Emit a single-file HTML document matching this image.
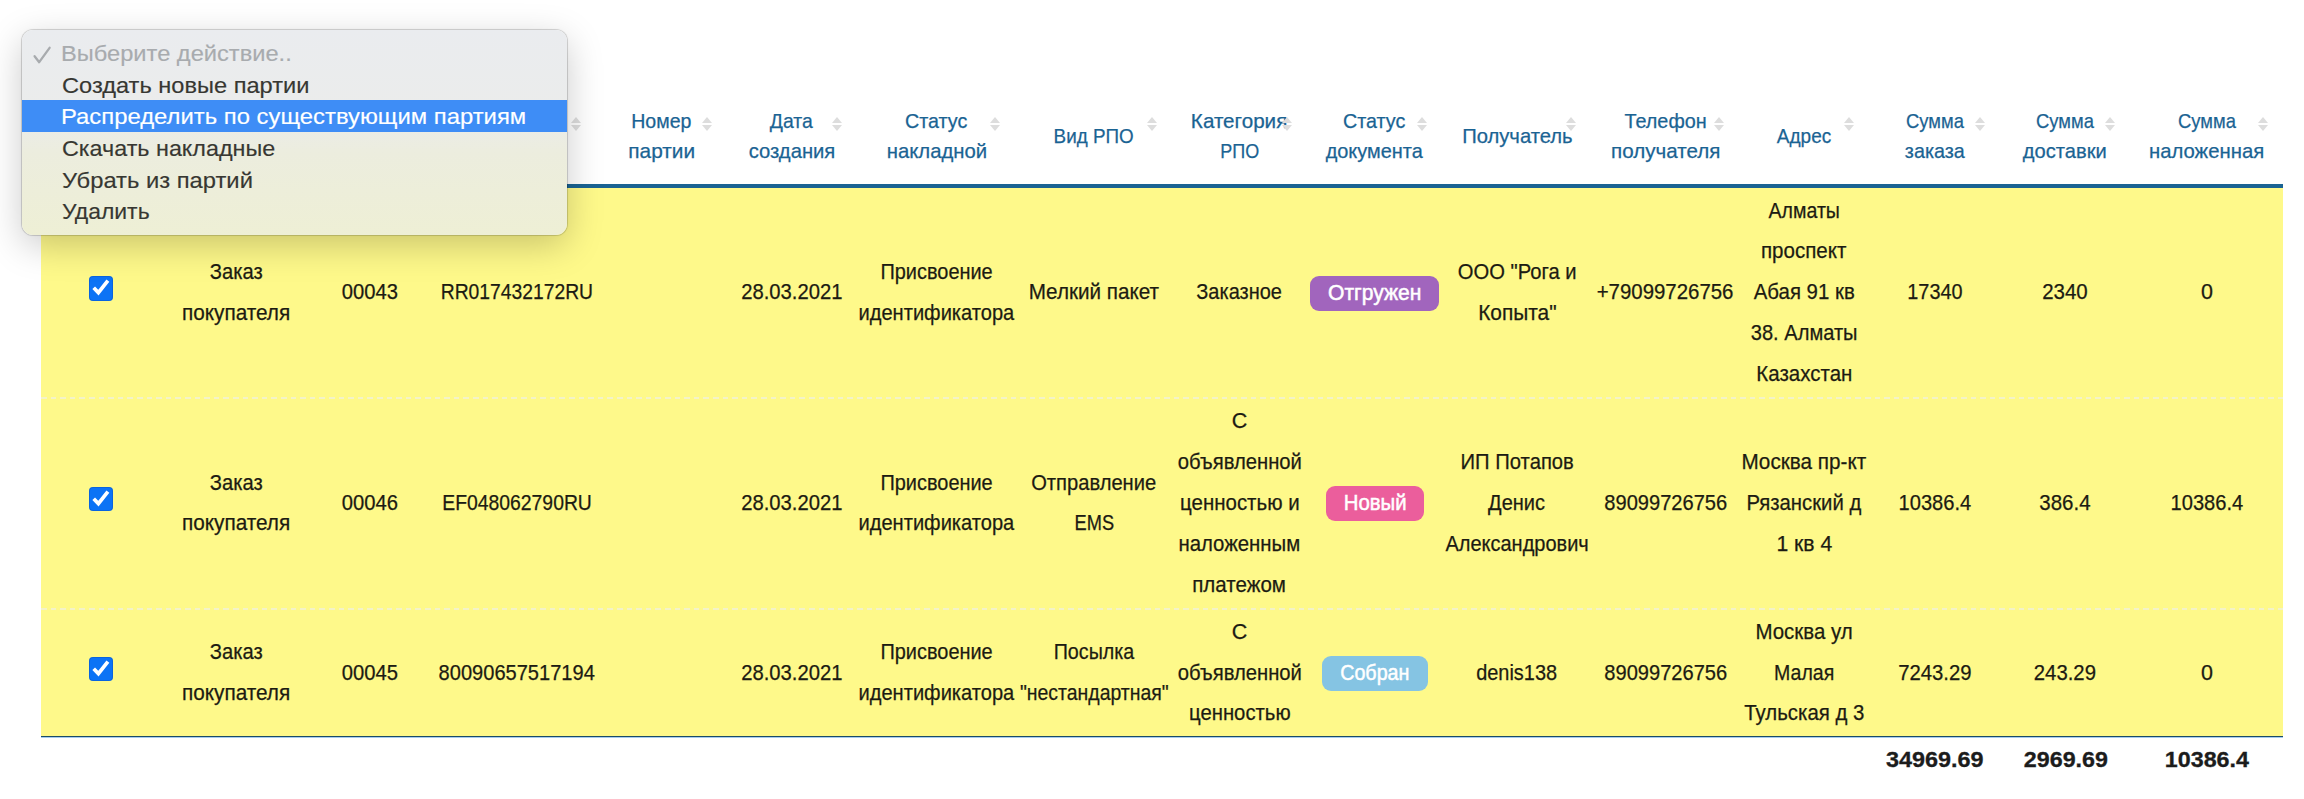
<!DOCTYPE html>
<html lang="ru"><head><meta charset="utf-8"><title>Заказы</title>
<style>
html,body{margin:0;padding:0;background:#fff;}
body{width:2304px;height:799px;position:relative;overflow:hidden;font-family:"Liberation Sans",sans-serif;color:#1c1b12;}
.abs{position:absolute;}
.c{position:absolute;width:400px;margin-left:-200px;text-align:center;white-space:nowrap;font-size:21.5px;line-height:40.8px;-webkit-text-stroke:0.25px #1c1b12;}
.h{position:absolute;width:400px;margin-left:-200px;text-align:center;white-space:nowrap;font-size:21px;line-height:30px;color:#1a6393;-webkit-text-stroke:0.25px #1a6393;}
.si{position:absolute;width:10px;height:14px;}
.si:before,.si:after{content:"";position:absolute;left:0;border-left:5px solid transparent;border-right:5px solid transparent;}
.si:before{top:0;border-bottom:6px solid #dddddd;}
.si:after{bottom:0;border-top:6px solid #dddddd;}
.bd{position:absolute;height:35px;border-radius:9px;color:#fff;font-size:21.5px;line-height:35px;text-align:center;white-space:nowrap;-webkit-text-stroke:0.5px #fff;}
.cb{position:absolute;width:24.2px;height:24.6px;border-radius:4px;background:#0c73f5;box-shadow:inset 0 0 0 1px rgba(0,50,150,.22);}
.dash{position:absolute;left:41px;width:2242px;height:2px;background:repeating-linear-gradient(90deg,#f4f3c8 0,#f4f3c8 5.6px,transparent 5.6px,transparent 9.6px);}
.f{position:absolute;width:400px;margin-left:-200px;text-align:center;white-space:nowrap;font-size:21.5px;font-weight:bold;line-height:30px;color:#1c1c1c;-webkit-text-stroke:0.3px #1c1c1c;}
.f span{display:inline-block;}
#dd{position:absolute;left:22px;top:29.5px;width:545px;height:205px;border-radius:11px;background:linear-gradient(180deg,#eaecef 0%,#ebeceb 42%,#ecedde 60%,#eeefd5 100%);box-shadow:0 0 0 1px rgba(0,0,0,.13),0 10px 36px rgba(0,0,0,.21),0 0 3px rgba(0,0,0,.08);overflow:hidden;}
#dd div{position:absolute;left:0;width:545px;height:31.3px;line-height:33.3px;font-size:22px;color:#373732;padding-left:41.3px;-webkit-text-stroke:0.15px currentColor;box-sizing:border-box;white-space:nowrap;}
</style></head><body>

<div class="h" style="left:661.5px;top:105.8px"><span style="display:inline-block;transform:scaleX(0.9317)">Номер</span><br><span style="display:inline-block;transform:scaleX(0.9908)">партии</span></div>
<div class="si" style="left:701.7px;top:116.8px"></div>
<div class="h" style="left:791.5px;top:105.8px"><span style="display:inline-block;transform:scaleX(0.9234)">Дата</span><br><span style="display:inline-block;transform:scaleX(0.9625)">создания</span></div>
<div class="si" style="left:831.7px;top:116.8px"></div>
<div class="h" style="left:936.5px;top:105.8px"><span style="display:inline-block;transform:scaleX(0.9385)">Статус</span><br><span style="display:inline-block;transform:scaleX(0.9676)">накладной</span></div>
<div class="si" style="left:989.7px;top:116.8px"></div>
<div class="h" style="left:1094px;top:120.8px"><span style="display:inline-block;transform:scaleX(0.8966)">Вид РПО</span></div>
<div class="si" style="left:1146.7px;top:116.8px"></div>
<div class="h" style="left:1239.5px;top:105.8px"><span style="display:inline-block;transform:scaleX(0.9823)">Категория</span><br><span style="display:inline-block;transform:scaleX(0.8568)">РПО</span></div>
<div class="si" style="left:1281.7px;top:116.8px"></div>
<div class="h" style="left:1374.5px;top:105.8px"><span style="display:inline-block;transform:scaleX(0.9385)">Статус</span><br><span style="display:inline-block;transform:scaleX(0.9485)">документа</span></div>
<div class="si" style="left:1416.7px;top:116.8px"></div>
<div class="h" style="left:1517px;top:120.8px"><span style="display:inline-block;transform:scaleX(0.9628)">Получатель</span></div>
<div class="si" style="left:1565.7px;top:116.8px"></div>
<div class="h" style="left:1665.5px;top:105.8px"><span style="display:inline-block;transform:scaleX(0.9442)">Телефон</span><br><span style="display:inline-block;transform:scaleX(0.9807)">получателя</span></div>
<div class="si" style="left:1713.7px;top:116.8px"></div>
<div class="h" style="left:1804px;top:120.8px"><span style="display:inline-block;transform:scaleX(0.905)">Адрес</span></div>
<div class="si" style="left:1843.7px;top:116.8px"></div>
<div class="h" style="left:1934.5px;top:105.8px"><span style="display:inline-block;transform:scaleX(0.8769)">Сумма</span><br><span style="display:inline-block;transform:scaleX(0.9413)">заказа</span></div>
<div class="si" style="left:1974.7px;top:116.8px"></div>
<div class="h" style="left:2065px;top:105.8px"><span style="display:inline-block;transform:scaleX(0.8769)">Сумма</span><br><span style="display:inline-block;transform:scaleX(0.9581)">доставки</span></div>
<div class="si" style="left:2104.7px;top:116.8px"></div>
<div class="h" style="left:2207px;top:105.8px"><span style="display:inline-block;transform:scaleX(0.8769)">Сумма</span><br><span style="display:inline-block;transform:scaleX(0.9667)">наложенная</span></div>
<div class="si" style="left:2257.7px;top:116.8px"></div>
<div class="si" style="left:571px;top:117px"></div>
<div class="abs" style="left:41px;top:184px;width:2242px;height:4px;background:#1a6393"></div>
<div class="abs" style="left:41px;top:188px;width:2242px;height:548px;background:#fef98a"></div>
<div class="dash" style="top:396.7px"></div>
<div class="dash" style="top:607.5px"></div>
<div class="abs" style="left:41px;top:736px;width:2242px;height:1px;background:#1c4c66"></div>
<div class="abs" style="left:41px;top:737px;width:2242px;height:1px;background:#a6ccf0"></div>
<div class="c" style="left:236px;top:251.9px"><span style="display:inline-block;transform:scaleX(0.9382)">Заказ</span><br><span style="display:inline-block;transform:scaleX(0.9655)">покупателя</span></div>
<div class="c" style="left:370px;top:272.3px"><span style="display:inline-block;transform:scaleX(0.9397)">00043</span></div>
<div class="c" style="left:517px;top:272.3px"><span style="display:inline-block;transform:scaleX(0.897)">RR017432172RU</span></div>
<div class="c" style="left:791.5px;top:272.3px"><span style="display:inline-block;transform:scaleX(0.941)">28.03.2021</span></div>
<div class="c" style="left:936.5px;top:251.9px"><span style="display:inline-block;transform:scaleX(0.9271)">Присвоение</span><br><span style="display:inline-block;transform:scaleX(0.9337)">идентификатора</span></div>
<div class="c" style="left:1094px;top:272.3px"><span style="display:inline-block;transform:scaleX(0.9608)">Мелкий пакет</span></div>
<div class="c" style="left:1239.5px;top:272.3px"><span style="display:inline-block;transform:scaleX(0.9286)">Заказное</span></div>
<div class="c" style="left:1517px;top:251.9px"><span style="display:inline-block;transform:scaleX(0.9395)">ООО &quot;Рога и</span><br><span style="display:inline-block;transform:scaleX(0.9712)">Копыта&quot;</span></div>
<div class="c" style="left:1665.5px;top:272.3px"><span style="display:inline-block;transform:scaleX(0.9493)">+79099726756</span></div>
<div class="c" style="left:1804px;top:190.7px"><span style="display:inline-block;transform:scaleX(0.9104)">Алматы</span><br><span style="display:inline-block;transform:scaleX(0.9557)">проспект</span><br><span style="display:inline-block;transform:scaleX(0.9491)">Абая 91 кв</span><br><span style="display:inline-block;transform:scaleX(0.9339)">38. Алматы</span><br><span style="display:inline-block;transform:scaleX(0.9531)">Казахстан</span></div>
<div class="c" style="left:1935px;top:272.3px"><span style="display:inline-block;transform:scaleX(0.9224)">17340</span></div>
<div class="c" style="left:2065.3px;top:272.3px"><span style="display:inline-block;transform:scaleX(0.9522)">2340</span></div>
<div class="c" style="left:2207px;top:272.3px">0</div>
<div class="bd" style="left:1310.3px;top:275.7px;width:128.5px;background:#a165bd"><span style="display:inline-block;transform:scaleX(0.9785)">Отгружен</span></div>
<div class="cb" style="left:89.3px;top:276.1px"><svg width="24.2" height="24.6" viewBox="0 0 24.2 24.6" style="display:block"><path d="M4.7 11.7 L9.4 16.6 L18.9 4.6" fill="none" stroke="#fff" stroke-width="3.7" stroke-linecap="butt" stroke-linejoin="miter"/></svg></div>
<div class="c" style="left:236px;top:462.6px"><span style="display:inline-block;transform:scaleX(0.9382)">Заказ</span><br><span style="display:inline-block;transform:scaleX(0.9655)">покупателя</span></div>
<div class="c" style="left:370px;top:483.0px"><span style="display:inline-block;transform:scaleX(0.9397)">00046</span></div>
<div class="c" style="left:517px;top:483.0px"><span style="display:inline-block;transform:scaleX(0.9)">EF048062790RU</span></div>
<div class="c" style="left:791.5px;top:483.0px"><span style="display:inline-block;transform:scaleX(0.941)">28.03.2021</span></div>
<div class="c" style="left:936.5px;top:462.6px"><span style="display:inline-block;transform:scaleX(0.9271)">Присвоение</span><br><span style="display:inline-block;transform:scaleX(0.9337)">идентификатора</span></div>
<div class="c" style="left:1094px;top:462.6px"><span style="display:inline-block;transform:scaleX(0.9371)">Отправление</span><br><span style="display:inline-block;transform:scaleX(0.8477)">EMS</span></div>
<div class="c" style="left:1239.5px;top:401.4px">С<br><span style="display:inline-block;transform:scaleX(0.9415)">объявленной</span><br><span style="display:inline-block;transform:scaleX(0.9516)">ценностью и</span><br><span style="display:inline-block;transform:scaleX(0.9468)">наложенным</span><br><span style="display:inline-block;transform:scaleX(0.9552)">платежом</span></div>
<div class="c" style="left:1517px;top:442.2px"><span style="display:inline-block;transform:scaleX(0.9407)">ИП Потапов</span><br><span style="display:inline-block;transform:scaleX(0.9311)">Денис</span><br><span style="display:inline-block;transform:scaleX(0.9294)">Александрович</span></div>
<div class="c" style="left:1665.5px;top:483.0px"><span style="display:inline-block;transform:scaleX(0.9338)">89099726756</span></div>
<div class="c" style="left:1804px;top:442.2px"><span style="display:inline-block;transform:scaleX(0.9633)">Москва пр-кт</span><br><span style="display:inline-block;transform:scaleX(0.9442)">Рязанский д</span><br><span style="display:inline-block;transform:scaleX(0.9855)">1 кв 4</span></div>
<div class="c" style="left:1935px;top:483.0px"><span style="display:inline-block;transform:scaleX(0.9342)">10386.4</span></div>
<div class="c" style="left:2065.3px;top:483.0px"><span style="display:inline-block;transform:scaleX(0.9519)">386.4</span></div>
<div class="c" style="left:2207px;top:483.0px"><span style="display:inline-block;transform:scaleX(0.9342)">10386.4</span></div>
<div class="bd" style="left:1325.5px;top:486.4px;width:98.5px;background:#eb5e9c"><span style="display:inline-block;transform:scaleX(0.9484)">Новый</span></div>
<div class="cb" style="left:89.3px;top:486.8px"><svg width="24.2" height="24.6" viewBox="0 0 24.2 24.6" style="display:block"><path d="M4.7 11.7 L9.4 16.6 L18.9 4.6" fill="none" stroke="#fff" stroke-width="3.7" stroke-linecap="butt" stroke-linejoin="miter"/></svg></div>
<div class="c" style="left:236px;top:632.3px"><span style="display:inline-block;transform:scaleX(0.9382)">Заказ</span><br><span style="display:inline-block;transform:scaleX(0.9655)">покупателя</span></div>
<div class="c" style="left:370px;top:652.7px"><span style="display:inline-block;transform:scaleX(0.9397)">00045</span></div>
<div class="c" style="left:517px;top:652.7px"><span style="display:inline-block;transform:scaleX(0.9331)">80090657517194</span></div>
<div class="c" style="left:791.5px;top:652.7px"><span style="display:inline-block;transform:scaleX(0.941)">28.03.2021</span></div>
<div class="c" style="left:936.5px;top:632.3px"><span style="display:inline-block;transform:scaleX(0.9271)">Присвоение</span><br><span style="display:inline-block;transform:scaleX(0.9337)">идентификатора</span></div>
<div class="c" style="left:1094px;top:632.3px"><span style="display:inline-block;transform:scaleX(0.9161)">Посылка</span><br><span style="display:inline-block;transform:scaleX(0.9043)">&quot;нестандартная&quot;</span></div>
<div class="c" style="left:1239.5px;top:611.9px">С<br><span style="display:inline-block;transform:scaleX(0.9415)">объявленной</span><br><span style="display:inline-block;transform:scaleX(0.9434)">ценностью</span></div>
<div class="c" style="left:1517px;top:652.7px"><span style="display:inline-block;transform:scaleX(0.9267)">denis138</span></div>
<div class="c" style="left:1665.5px;top:652.7px"><span style="display:inline-block;transform:scaleX(0.9338)">89099726756</span></div>
<div class="c" style="left:1804px;top:611.9px"><span style="display:inline-block;transform:scaleX(0.9535)">Москва ул</span><br><span style="display:inline-block;transform:scaleX(0.9095)">Малая</span><br><span style="display:inline-block;transform:scaleX(0.9484)">Тульская д 3</span></div>
<div class="c" style="left:1935px;top:652.7px"><span style="display:inline-block;transform:scaleX(0.9447)">7243.29</span></div>
<div class="c" style="left:2065.3px;top:652.7px"><span style="display:inline-block;transform:scaleX(0.9453)">243.29</span></div>
<div class="c" style="left:2207px;top:652.7px">0</div>
<div class="bd" style="left:1322.1px;top:656.1px;width:105.5px;background:#85c4e3"><span style="display:inline-block;transform:scaleX(0.9149)">Собран</span></div>
<div class="cb" style="left:89.3px;top:656.5px"><svg width="24.2" height="24.6" viewBox="0 0 24.2 24.6" style="display:block"><path d="M4.7 11.7 L9.4 16.6 L18.9 4.6" fill="none" stroke="#fff" stroke-width="3.7" stroke-linecap="butt" stroke-linejoin="miter"/></svg></div>
<div class="f" style="left:1934.8px;top:744.6px"><span style="transform:scaleX(1.0876)">34969.69</span></div>
<div class="f" style="left:2065.4px;top:744.6px"><span style="transform:scaleX(1.0818)">2969.69</span></div>
<div class="f" style="left:2207.1px;top:744.6px"><span style="transform:scaleX(1.0818)">10386.4</span></div>
<div id="dd">
<div style="top:7.65px;color:#a8abae;"><span style="display:inline-block;transform-origin:0 50%;transform:scaleX(1.0749);margin-left:-2.15px">Выберите действие..</span></div>
<div style="top:39.30px;"><span style="display:inline-block;transform-origin:0 50%;transform:scaleX(1.0732);margin-left:-1.07px">Создать новые партии</span></div>
<div style="top:70.95px;background:#3e8df6;color:#fff;"><span style="display:inline-block;transform-origin:0 50%;transform:scaleX(1.0838);margin-left:-2.17px">Распределить по существующим партиям</span></div>
<div style="top:102.60px;"><span style="display:inline-block;transform-origin:0 50%;transform:scaleX(1.0608);margin-left:-1.06px">Скачать накладные</span></div>
<div style="top:134.25px;"><span style="display:inline-block;transform-origin:0 50%;transform:scaleX(1.08);margin-left:-1.08px">Убрать из партий</span></div>
<div style="top:165.90px;"><span style="display:inline-block;transform-origin:0 50%;transform:scaleX(1.0427);margin-left:-1.04px">Удалить</span></div>
<svg class="abs" style="left:10px;top:15px" width="22" height="22" viewBox="0 0 22 22"><path d="M2.6 11.2 L7.2 17.2 L17.6 2.8" fill="none" stroke="#a8abae" stroke-width="2.3" stroke-linecap="round" stroke-linejoin="round"/></svg>
</div>
</body></html>
